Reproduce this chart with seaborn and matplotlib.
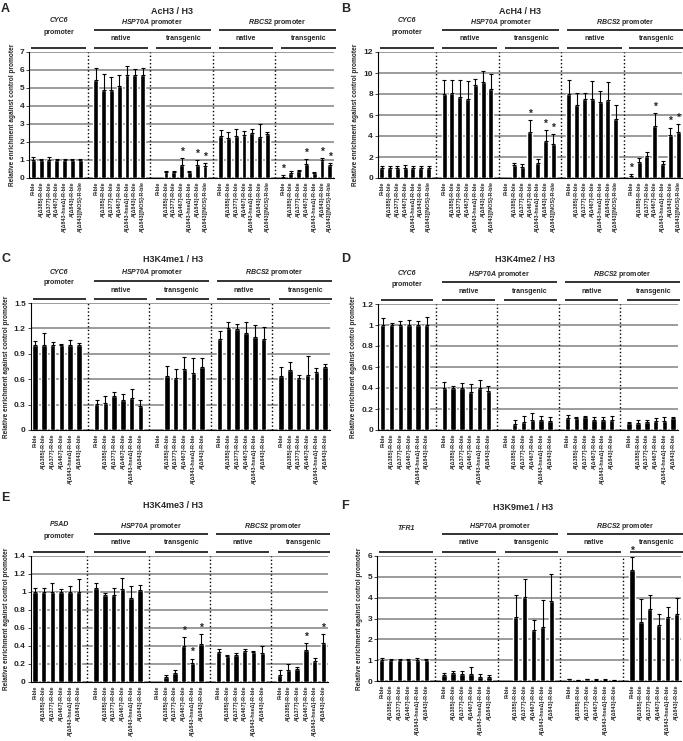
import numpy as np
import pandas as pd
import matplotlib
matplotlib.use("Agg")
import matplotlib.pyplot as plt
import matplotlib.transforms as mtransforms
import seaborn as sns

# sample names on the x axis
samples7 = ["R-ble", "A[Δ385]-R-ble", "A[Δ377]-R-ble", "A[Δ467]-R-ble",
            "A[Δ843-hseΔ]-R-ble", "A[Δ843]-R-ble", "A[Δ843][NOS]-R-ble"]
samples6 = samples7[:6]
subgroups = ["native", "transgenic", "native", "transgenic"]

# groups: control, HSP70A native, HSP70A transgenic, RBCS2 native, RBCS2 transgenic
# None = no bar
ach3_mean = [[1.0, 1.0, 1.0, 1.0, 1.0, 1.0, 1.0],
             [5.45, 4.9, 4.9, 5.1, 5.7, 5.7, 5.7],
             [None, 0.33, 0.35, 0.75, 0.32, 0.75, 0.65],
             [2.35, 2.25, 2.35, 2.38, 2.52, 2.3, 2.45],
             [0.08, 0.3, 0.38, 0.78, 0.27, 1.0, 0.7]]
ach3_sd = [[0.18, 0.05, 0.15, 0.05, 0.05, 0.07, 0.05],
           [0.65, 0.9, 0.7, 0.65, 0.5, 0.35, 0.4],
           [None, 0.07, 0.05, 0.35, 0.05, 0.25, 0.2],
           [0.3, 0.3, 0.4, 0.22, 0.18, 0.7, 0.1],
           [0.07, 0.1, 0.04, 0.27, 0.08, 0.1, 0.15]]
ach3_star = [(2, 3), (2, 5), (2, 6), (4, 0), (4, 3), (4, 5), (4, 6)]

ach4_mean = [[1.0, 1.0, 1.0, 1.0, 1.0, 1.0, 1.0],
             [8.0, 8.05, 7.75, 7.5, 8.9, 9.1, 8.45],
             [None, 1.2, 1.05, 4.35, 1.4, 3.5, 3.25],
             [8.0, 7.0, 7.55, 7.5, 7.2, 7.4, 5.65],
             [0.2, 1.55, 2.1, 5.0, 1.3, 4.1, 4.4]]
ach4_sd = [[0.15, 0.12, 0.12, 0.2, 0.12, 0.12, 0.12],
           [1.35, 1.25, 1.6, 1.7, 0.55, 1.1, 1.5],
           [None, 0.2, 0.25, 1.2, 0.4, 1.1, 0.95],
           [1.3, 1.05, 0.5, 1.7, 1.05, 1.7, 1.3],
           [0.15, 0.4, 0.35, 1.2, 0.3, 0.7, 0.7]]
ach4_star = [(2, 3), (2, 5), (2, 6), (4, 0), (4, 3), (4, 5), (4, 6)]

me1_mean = [[1.0, 1.0, 1.0, 1.0, 1.0, 1.0],
            [0.31, 0.32, 0.40, 0.36, 0.38, 0.28],
            [None, 0.64, 0.62, 0.72, 0.67, 0.74],
            [1.08, 1.2, 1.19, 1.14, 1.1, 1.07],
            [0.64, 0.71, 0.61, 0.65, 0.69, 0.74]]
me1_sd = [[0.05, 0.15, 0.04, 0.02, 0.06, 0.03],
          [0.04, 0.08, 0.05, 0.06, 0.11, 0.08],
          [None, 0.12, 0.10, 0.14, 0.18, 0.11],
          [0.09, 0.08, 0.06, 0.13, 0.14, 0.15],
          [0.11, 0.09, 0.04, 0.22, 0.04, 0.04]]
me1_star = []

me2_mean = [[1.0, 1.0, 1.0, 1.0, 1.0, 1.0],
            [0.40, 0.40, 0.40, 0.36, 0.40, 0.37],
            [None, 0.06, 0.08, 0.10, 0.10, 0.09],
            [0.11, 0.11, 0.12, 0.10, 0.10, 0.10],
            [0.07, 0.07, 0.08, 0.09, 0.09, 0.11]]
me2_sd = [[0.07, 0.02, 0.04, 0.05, 0.04, 0.08],
          [0.06, 0.02, 0.05, 0.08, 0.08, 0.05],
          [None, 0.04, 0.05, 0.06, 0.03, 0.03],
          [0.03, 0.01, 0.01, 0.02, 0.02, 0.03],
          [0.01, 0.03, 0.02, 0.02, 0.03, 0.01]]
me2_star = []

me3_mean = [[1.0, 1.0, 1.0, 1.0, 1.0, 1.0],
            [1.05, 0.97, 0.97, 1.03, 0.93, 1.02],
            [None, 0.06, 0.10, 0.40, 0.21, 0.42],
            [0.33, 0.29, 0.30, 0.34, 0.33, 0.32],
            [0.08, 0.13, 0.15, 0.36, 0.23, 0.43]]
me3_sd = [[0.04, 0.04, 0.10, 0.03, 0.07, 0.14],
          [0.05, 0.02, 0.07, 0.13, 0.14, 0.06],
          [None, 0.02, 0.03, 0.10, 0.05, 0.11],
          [0.04, 0.01, 0.02, 0.03, 0.01, 0.08],
          [0.05, 0.07, 0.02, 0.07, 0.04, 0.10]]
me3_star = [(2, 3), (2, 4), (2, 5), (4, 3), (4, 5)]

k9_mean = [[1.0, 1.0, 1.0, 1.0, 1.0, 1.0],
           [0.28, 0.40, 0.36, 0.33, 0.18, 0.19],
           [None, 3.05, 4.05, 2.45, 2.6, 3.82],
           [0.08, 0.05, 0.08, 0.06, 0.07, 0.04],
           [5.35, 2.85, 3.45, 2.7, 3.08, 3.2]]
k9_sd = [[0.12, 0.05, 0.05, 0.05, 0.1, 0.05],
         [0.1, 0.1, 0.12, 0.35, 0.15, 0.09],
         [None, 1.1, 0.85, 0.47, 1.28, 1.3],
         [0.04, 0.02, 0.03, 0.02, 0.03, 0.02],
         [0.6, 1.1, 0.7, 0.5, 0.47, 0.78]]
k9_star = [(4, 0)]

sns.set_style("white")
plt.rcParams["font.family"] = ["Liberation Sans", "DejaVu Sans"]
plt.rcParams["font.weight"] = "bold"
plt.rcParams["mathtext.fontset"] = "custom"
plt.rcParams["mathtext.it"] = "Liberation Sans:italic:bold"
plt.rcParams["mathtext.rm"] = "Liberation Sans:bold"

W, H = 683, 741
fig = plt.figure(figsize=(W / 100, H / 100), dpi=100)


def draw(rect, letter, letter_xy, title, title_xy, ctrl, ctrl_prom,
         samples, means, sds, stars, ymax, ystep):
    ax = fig.add_axes([rect[0] / W, 1 - rect[3] / H,
                       (rect[2] - rect[0]) / W, (rect[3] - rect[1]) / H])
    n = len(samples)
    rows = []
    for g in range(5):
        for i in range(n):
            if means[g][i] is None:
                continue
            rows.append(dict(pos=g * (n + 1) + i, mean=means[g][i],
                             sd=sds[g][i], star=(g, i) in stars))
    df = pd.DataFrame(rows)
    ncat = 5 * n + 4

    ax.yaxis.grid(True, color="#808080", lw=1.1, zorder=0)
    sns.barplot(data=df, x="pos", y="mean", native_scale=True, color="black",
                saturation=1, width=0.62, errorbar=None, ax=ax, zorder=2)
    ax.set_axisbelow(True)
    ax.errorbar(df["pos"], df["mean"], yerr=[np.zeros(len(df)), df["sd"]],
                fmt="none", ecolor="black", elinewidth=0.8, capsize=1.3,
                capthick=0.8, zorder=3)
    for _, r in df[df["star"]].iterrows():
        ax.text(r["pos"], r["mean"] + r["sd"] + 0.05 * ymax, "*", ha="center",
                va="center", fontsize=7.5, fontweight="bold")
    for g in range(1, 5):
        ax.vlines(g * (n + 1) - 1, 0, ymax, colors="black", linestyles=":", lw=1.0)

    ax.set_xlim(-0.5, ncat - 0.5)
    ax.set_ylim(0, ymax)
    ticks = np.round(np.arange(0, ymax + ystep / 2, ystep), 3)
    ax.set_yticks(ticks)
    ax.set_yticklabels([f"{t:g}" for t in ticks])
    pos = [g * (n + 1) + i for g in range(5) for i in range(n)]
    ax.set_xticks(pos)
    ax.set_xticklabels(samples * 5, rotation=90, fontsize=3.9, fontweight="bold")
    ax.set_xticks(np.arange(-0.5, ncat, 1), minor=True)
    ax.tick_params(axis="x", which="major", length=0, pad=2.5)
    ax.tick_params(axis="x", which="minor", length=2, width=0.6, direction="out")
    ax.tick_params(axis="y", length=2, width=0.6, labelsize=6, pad=1.5, left=True)
    for s in ["top", "right"]:
        ax.spines[s].set_visible(False)
    for s in ["left", "bottom"]:
        ax.spines[s].set_color("black")
        ax.spines[s].set_linewidth(0.8)
    ax.set_xlabel("")
    ax.set_ylabel("Relative enrichment against control promoter",
                  fontsize=4.7, fontweight="bold", labelpad=3)

    # header annotations above the plot
    tr = mtransforms.blended_transform_factory(ax.transData, ax.transAxes)
    h = rect[3] - rect[1]

    def yy(px):
        return 1 + px / h

    spans = [(g * (n + 1) - 0.25, g * (n + 1) + n - 0.25) for g in range(5)]
    kw = dict(color="#222222", lw=1.3, clip_on=False, transform=tr,
              solid_capstyle="butt")
    tkw = dict(ha="center", va="center", fontsize=5, fontweight="bold",
               transform=tr)
    for a, b in spans:
        ax.plot([a, b], [yy(4.5), yy(4.5)], **kw)
    c0 = sum(spans[0]) / 2
    if ctrl_prom:
        ax.text(c0, yy(31), ctrl, style="italic", **tkw)
        ax.text(c0, yy(20), "promoter", **tkw)
    else:
        ax.text(c0, yy(28), ctrl, style="italic", **tkw)
    for g, lab in zip(range(1, 5), subgroups):
        ax.text(sum(spans[g]) / 2, yy(13), lab, **tkw)
    for (g1, g2), name in [((1, 2), "HSP70A"), ((3, 4), "RBCS2")]:
        a, b = spans[g1][0], spans[g2][1]
        ax.plot([a, b], [yy(22), yy(22)], **kw)
        ax.text((a + b) / 2, yy(30), rf"$\mathit{{{name}}}$ promoter", **tkw)

    fig.text(letter_xy[0] / W, 1 - letter_xy[1] / H, letter, ha="left", va="top",
             fontsize=9, fontweight="bold")
    fig.text(title_xy[0] / W, 1 - title_xy[1] / H, title, ha="center",
             va="center", fontsize=6.5, fontweight="bold")
    return ax


draw((29.4, 52, 333.7, 178), "A", (1, 3), "AcH3 / H3", (172, 12), "CYC6", True,
     samples7, ach3_mean, ach3_sd, ach3_star, 7, 1)
draw((377.8, 52, 682, 178), "B", (341, 3), "AcH4 / H3", (520, 12), "CYC6", True,
     samples7, ach4_mean, ach4_sd, ach4_star, 12, 2)
draw((30.6, 303, 329.5, 430), "C", (1, 253), "H3K4me1 / H3", (173, 260), "CYC6", True,
     samples6, me1_mean, me1_sd, me1_star, 1.5, 0.3)
draw((378.3, 304, 677.6, 430), "D", (341, 253), "H3K4me2 / H3", (525, 260), "CYC6", True,
     samples6, me2_mean, me2_sd, me2_star, 1.2, 0.2)
draw((30.6, 556, 327.8, 682), "E", (1, 492), "H3K4me3 / H3", (173, 505), "PSAD", True,
     samples6, me3_mean, me3_sd, me3_star, 1.4, 0.2)
draw((377.2, 556, 681, 681), "F", (341, 500), "H3K9me1 / H3", (523, 507), "TFR1", False,
     samples6, k9_mean, k9_sd, k9_star, 6, 1)

fig.savefig("out.png", dpi=100)
